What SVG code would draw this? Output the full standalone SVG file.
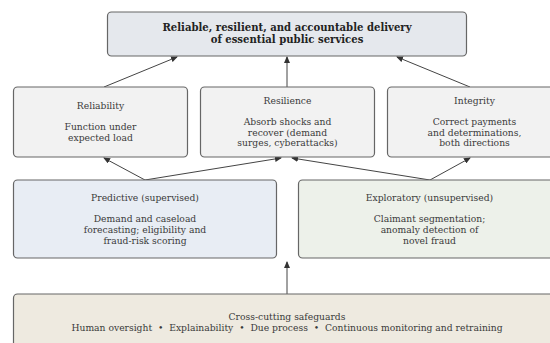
<svg xmlns="http://www.w3.org/2000/svg" width="550" height="343" viewBox="0 0 550 343">
<style>
.box{stroke:#666;stroke-width:1.2}
.t{font-family:"DejaVu Serif",serif;font-size:9.2px;fill:#3a3a3a;text-anchor:middle;white-space:pre}
.b{font-weight:bold;fill:#222;font-size:10.1px}
.c{stroke:#444;stroke-width:1;fill:none;marker-end:url(#ah)}
</style>
<defs>
<marker id="ah" markerWidth="7" markerHeight="6" refX="6" refY="3" orient="auto" markerUnits="userSpaceOnUse">
<path d="M0,0 L7,3 L0,6 Z" fill="#333"/>
</marker>
</defs>
<rect width="550" height="343" fill="#fff"/>
<g id="connectors">
<line class="c" x1="104" y1="87" x2="177" y2="57"/>
<line class="c" x1="287" y1="87" x2="287" y2="57"/>
<line class="c" x1="470" y1="87" x2="397" y2="57"/>
<line class="c" x1="145" y1="180" x2="104" y2="158"/>
<line class="c" x1="145" y1="180" x2="281" y2="158"/>
<line class="c" x1="430" y1="180" x2="292" y2="158"/>
<line class="c" x1="430" y1="180" x2="470" y2="158"/>
<line class="c" x1="287" y1="294" x2="287" y2="262"/>
</g>
<g id="goal">
<rect class="box" x="107.5" y="12" width="359" height="44" rx="4" fill="#e5e8ed"/>
<text class="t b" x="287" y="31">Reliable, resilient, and accountable delivery</text>
<text class="t b" x="287" y="43">of essential public services</text>
</g>
<g id="reliability">
<rect class="box" x="13.5" y="87" width="174" height="70" rx="4" fill="#f2f2f2"/>
<text class="t" x="100.5" y="109">Reliability</text>
<text class="t" x="100.5" y="130">Function under</text>
<text class="t" x="100.5" y="140.5">expected load</text>
</g>
<g id="resilience">
<rect class="box" x="200.5" y="87" width="174" height="70" rx="4" fill="#f2f2f2"/>
<text class="t" x="287.5" y="104">Resilience</text>
<text class="t" x="287.5" y="125">Absorb shocks and</text>
<text class="t" x="287.5" y="135.5">recover (demand</text>
<text class="t" x="287.5" y="146">surges, cyberattacks)</text>
</g>
<g id="integrity">
<rect class="box" x="387.5" y="87" width="174" height="70" rx="4" fill="#f2f2f2"/>
<text class="t" x="474.5" y="104">Integrity</text>
<text class="t" x="474.5" y="125">Correct payments</text>
<text class="t" x="474.5" y="135.5">and determinations,</text>
<text class="t" x="474.5" y="146">both directions</text>
</g>
<g id="predictive">
<rect class="box" x="13.5" y="180" width="263" height="78" rx="4" fill="#e8edf4"/>
<text class="t" x="145" y="201">Predictive (supervised)</text>
<text class="t" x="145" y="222">Demand and caseload</text>
<text class="t" x="145" y="233">forecasting; eligibility and</text>
<text class="t" x="145" y="244">fraud-risk scoring</text>
</g>
<g id="exploratory">
<rect class="box" x="298.5" y="180" width="263" height="78" rx="4" fill="#edf1ea"/>
<text class="t" x="429.5" y="201">Exploratory (unsupervised)</text>
<text class="t" x="429.5" y="222">Claimant segmentation;</text>
<text class="t" x="429.5" y="233">anomaly detection of</text>
<text class="t" x="429.5" y="244">novel fraud</text>
</g>
<g id="safeguards">
<rect class="box" x="13.5" y="294" width="548" height="70" rx="4" fill="#eeeae0"/>
<text class="t" x="287" y="320">Cross-cutting safeguards</text>
<text class="t" x="287" y="331">Human oversight  •  Explainability  •  Due process  •  Continuous monitoring and retraining</text>
</g>
</svg>
